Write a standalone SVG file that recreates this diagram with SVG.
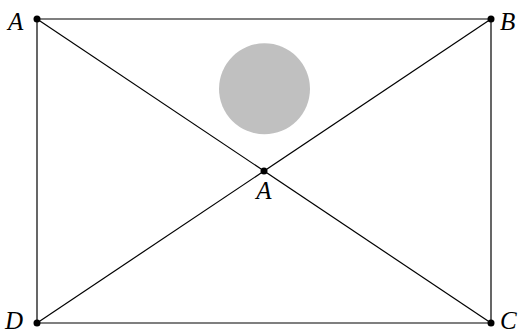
<svg xmlns="http://www.w3.org/2000/svg" width="518" height="332" viewBox="0 0 518 332">
<style>
.e{stroke:#000;stroke-width:1.2;fill:none}
.p{fill:#000}
.t{font-family:"Liberation Serif",serif;font-style:italic;font-size:25px;fill:#000}
</style>
<rect width="518" height="332" fill="#fff"/>
<g id="connectors">
<line class="e" x1="37" y1="19" x2="491" y2="19"/>
<line class="e" x1="491" y1="19" x2="491" y2="323"/>
<line class="e" x1="491" y1="323" x2="37" y2="323"/>
<line class="e" x1="37" y1="323" x2="37" y2="19"/>
<line class="e" x1="37" y1="19" x2="491" y2="323"/>
<line class="e" x1="491" y1="19" x2="37" y2="323"/>
</g>
<g id="circle"><circle cx="264.5" cy="88.8" r="45.5" fill="#c0c0c0"/></g>
<g id="A"><circle class="p" cx="37" cy="19" r="3.5"/><text class="t" x="8" y="30">A</text></g>
<g id="B"><circle class="p" cx="491" cy="19" r="3.5"/><text class="t" x="500" y="30">B</text></g>
<g id="C"><circle class="p" cx="491" cy="323" r="3.5"/><text class="t" x="500" y="329">C</text></g>
<g id="D"><circle class="p" cx="37" cy="323" r="3.5"/><text class="t" x="5" y="329">D</text></g>
<g id="M"><circle class="p" cx="264" cy="171" r="3.5"/><text class="t" x="264" y="199" text-anchor="middle">A</text></g>
</svg>
